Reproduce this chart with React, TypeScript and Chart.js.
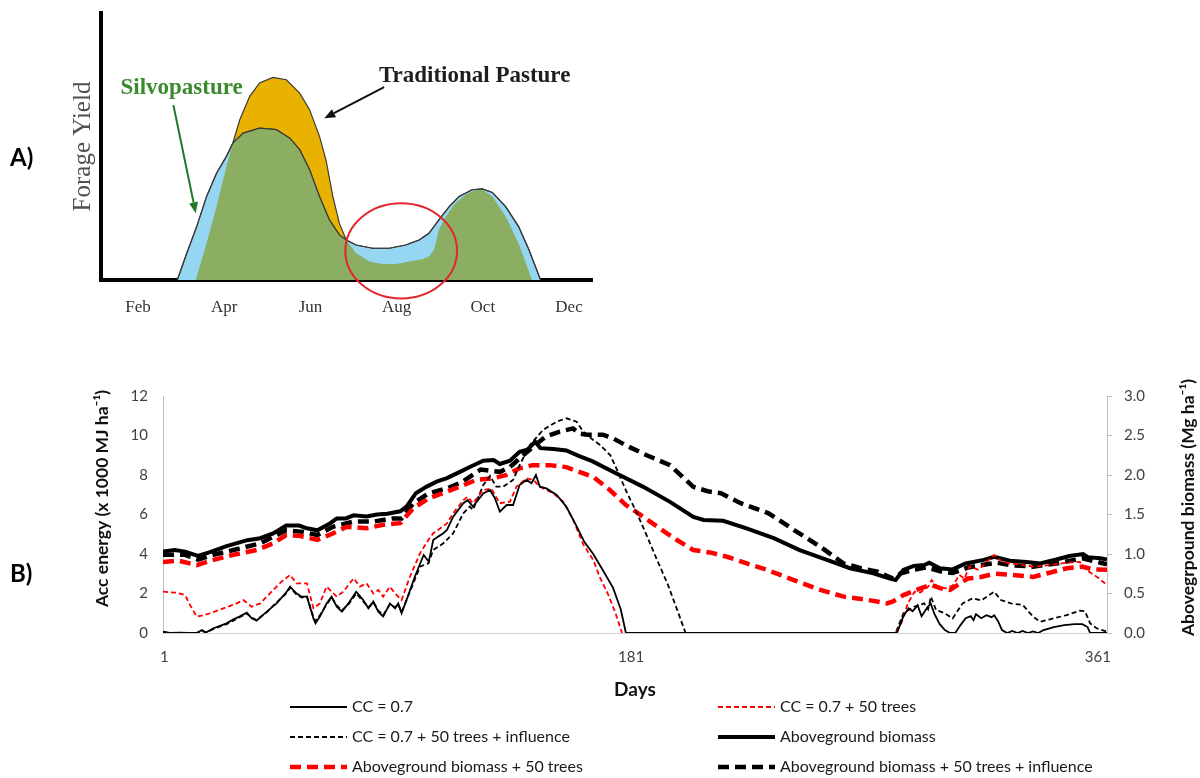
import React, { useEffect, useRef } from 'react';
import { Chart, registerables } from 'chart.js';

Chart.register(...registerables);

type Pt = [number, number];

// ---------------- Panel A (schematic forage yield) ----------------
const monthTicks = [2, 4, 6, 8, 10, 12];
const monthLabels = ['Feb', 'Apr', 'Jun', 'Aug', 'Oct', 'Dec'];

// [month, relative forage yield]
const traditionalPasture: Pt[] = [
  [3.34, 0], [3.59, 13.8], [3.82, 27.5], [4.05, 42.5], [4.2, 51.3], [4.36, 60], [4.59, 68.8],
  [4.82, 73.8], [5.13, 75.9], [5.44, 75], [5.75, 70], [5.98, 63.8], [6.21, 53.8], [6.36, 45],
  [6.52, 31.3], [6.67, 21.3], [6.83, 15], [7.06, 10], [7.37, 6.9], [7.67, 6], [7.98, 6],
  [8.29, 6.9], [8.6, 7.8], [8.75, 8.8], [8.87, 11.3], [8.98, 18.8], [9.14, 23.8], [9.37, 28.8],
  [9.6, 31.9], [9.83, 33.8], [9.99, 33.8], [10.22, 31.3], [10.53, 23.8], [10.83, 13.8], [11.14, 0],
];
const silvopasture: Pt[] = [
  [2.91, 0], [3.13, 10], [3.36, 20], [3.59, 31.3], [3.82, 40], [4.05, 46.3], [4.2, 51.3],
  [4.44, 55], [4.82, 56.9], [5.21, 56.3], [5.52, 53.1], [5.75, 48.8], [5.98, 41.3], [6.21, 31.3],
  [6.44, 22.5], [6.67, 16.9], [6.83, 15], [7.06, 13.1], [7.44, 11.9], [7.83, 11.9], [8.21, 13.1],
  [8.52, 15], [8.75, 17.5], [8.98, 22.5], [9.22, 27.5], [9.45, 31.3], [9.75, 33.8], [9.99, 34.1],
  [10.22, 32.8], [10.53, 27.5], [10.83, 20], [11.07, 11.3], [11.34, 0],
];

// ---------------- Panel B (daily simulation) ----------------
const dayTicks = [1, 181, 361];

// Acc energy (x 1000 MJ ha-1)
const ccSeries: Pt[] = [
  [0.5, 0.07], [3, 0], [7, 0.02], [10, 0], [13.5, 0], [15.5, 0.15], [17, 0.02], [20, 0.24], [25, 0.49],
  [27.6, 0.69], [30, 0.83], [32.8, 1.03], [34.7, 0.74], [36.6, 0.62], [40.5, 1.08], [44.3, 1.5],
  [48.2, 2.09], [49.5, 2.35], [52, 2.0], [54, 1.84], [56, 1.84], [58.5, 0.74], [59.3, 0.49], [61, 0.83],
  [63.6, 1.5], [65.5, 1.84], [67.5, 1.33], [69.5, 1.08], [72, 1.5], [75, 2.09], [77.7, 1.67],
  [79.7, 1.25], [81.6, 1.59], [83.5, 1.08], [85.4, 0.83], [88, 1.5], [90, 1.25], [91.2, 1.5],
  [92.5, 1.0], [94.4, 1.67], [97.6, 2.85], [101, 3.95], [103, 3.61], [104.7, 4.71], [106.6, 4.88],
  [108.6, 5.05], [110, 5.22], [112.4, 5.89], [116.3, 6.57], [118, 6.73], [120, 6.4], [124, 7.07],
  [126.6, 7.24], [128.5, 6.82], [130.4, 6.14], [133, 6.48], [135.5, 6.48], [138, 7.49], [140.7, 7.75],
  [142.6, 7.58], [144.3, 8.0], [145.8, 7.41], [148.3, 7.32], [152.3, 6.99], [156, 6.4], [160, 5.4],
  [163, 4.6], [166.4, 4.0], [170, 3.2], [174, 2.3], [177, 1.2], [179, 0], [283.5, 0], [286, 0.85],
  [288, 1.25], [289.5, 1.1], [291.5, 1.4], [293, 0.85], [295, 1.25], [296.5, 1.5], [298, 0.95],
  [300, 0.45], [302, 0.15], [304, 0], [306, 0], [308, 0.4], [310, 0.75], [312, 0.85], [313, 0.65],
  [314, 0.95], [316, 0.75], [318, 0.9], [320, 0.8], [321, 0.9], [322.5, 0.6], [324, 0.15], [326, 0],
  [328, 0.1], [330, 0], [332, 0.1], [334, 0], [336, 0.08], [338, 0], [340, 0.15], [344, 0.3],
  [348, 0.4], [352, 0.45], [355, 0.45], [357, 0.3], [358, 0], [364.5, 0],
];
const cc50Series: Pt[] = [
  [0.5, 2.09], [5.8, 2.04], [9, 1.92], [11, 1.4], [13.5, 0.83], [16, 0.9], [18.6, 1.0], [23.8, 1.25],
  [28.9, 1.5], [31.5, 1.67], [34.7, 1.33], [38, 1.5], [43, 2.18], [46.2, 2.6], [49.5, 2.94], [52, 2.51],
  [56, 2.51], [58.5, 1.25], [61, 1.5], [63.6, 2.35], [65.5, 2.09], [67.5, 1.84], [70, 2.09], [74, 2.77],
  [76.4, 2.35], [79, 2.51], [81.6, 2.0], [83.5, 2.18], [85.4, 1.84], [88, 2.35], [90, 2.0], [92.5, 1.67],
  [95.7, 2.85], [99.6, 4.03], [102.8, 4.71], [104.7, 5.05], [106.6, 5.22], [110, 5.55], [112.4, 6.06],
  [116.3, 6.73], [118, 6.9], [120, 6.57], [124, 7.24], [127, 7.32], [130.4, 6.57], [134.3, 6.65],
  [136.8, 7.41], [140.7, 7.83], [143.3, 7.75], [145.8, 7.41], [151, 7.07], [154.8, 6.65], [158.7, 5.72],
  [162.5, 4.5], [166.4, 3.7], [169, 2.8], [172, 2.0], [175, 1.0], [177.5, 0], [283, 0], [285.2, 0.49],
  [287.7, 1.5], [290.3, 2.09], [292.5, 2.05], [295.6, 2.35], [296.9, 2.68], [299, 2.35], [302, 2.26],
  [305, 2.4], [307.6, 2.94], [309.5, 2.75], [311.4, 3.36], [315, 3.2], [318, 3.6], [321, 3.95],
  [324, 3.6], [327, 3.53], [336, 3.36], [343, 3.45], [349, 3.56], [354, 3.6], [356.6, 3.19],
  [360.5, 2.85], [364.5, 2.43],
];
const ccInflSeries: Pt[] = [
  [0.5, 0.05], [3, 0], [10, 0], [13.5, 0], [15.5, 0.12], [17, 0.02], [20, 0.2], [25, 0.45], [27.6, 0.62],
  [30, 0.8], [32.8, 0.98], [34.7, 0.78], [36.6, 0.66], [40.5, 1.05], [44.3, 1.55], [48.2, 2.02],
  [49.5, 2.3], [52, 1.95], [54, 1.8], [56, 1.85], [58.5, 0.8], [59.3, 0.6], [61, 0.9], [63.6, 1.45],
  [65.5, 1.8], [67.5, 1.4], [69.5, 1.15], [72, 1.45], [75, 2.0], [77.7, 1.6], [79.7, 1.3], [81.6, 1.55],
  [83.5, 1.15], [85.4, 0.9], [88, 1.45], [90, 1.3], [91.2, 1.45], [92.5, 1.05], [95.7, 2.09],
  [99.6, 3.36], [102.8, 3.53], [104.7, 4.2], [108.6, 4.54], [112.4, 5.05], [116.3, 6.06], [118.8, 6.4],
  [120, 6.23], [124, 7.49], [126.6, 7.95], [129, 7.41], [131.7, 7.41], [135.5, 7.75], [138, 8.5],
  [142, 9.52], [147, 10.28], [152.3, 10.7], [156, 10.87], [160, 10.7], [162.5, 10.2], [166.4, 9.77],
  [169, 9.52], [173, 9.0], [175.6, 8.25], [179.5, 7.07], [183.3, 6.06], [187.2, 4.88], [191, 3.7],
  [195, 2.51], [198.8, 1.16], [202, 0], [283, 0], [286, 1.0], [290, 1.33], [294, 1.5], [295.5, 1.2],
  [296.6, 1.84], [298.6, 1.16], [302, 1.0], [305, 0.74], [308.8, 1.5], [312.7, 1.76], [316, 1.65],
  [321, 2.09], [323.6, 1.67], [327.4, 1.5], [332, 1.42], [336, 0.83], [338.7, 0.57], [342.5, 0.69],
  [349, 0.91], [354, 1.13], [356, 1.1], [358, 0.49], [360.5, 0.24], [364.5, 0.07],
];

// Aboveground biomass (Mg ha-1)
const abSeries: Pt[] = [
  [0.5, 1.03], [5, 1.05], [9, 1.03], [14, 0.975], [18.6, 1.025], [25, 1.1], [33, 1.175], [38, 1.2],
  [43, 1.26], [48, 1.36], [53, 1.36], [56, 1.325], [60, 1.3], [65, 1.39], [67.5, 1.45], [71, 1.45],
  [74, 1.49], [79, 1.475], [83, 1.5], [87, 1.51], [92, 1.54], [94.4, 1.6], [98, 1.77], [102, 1.85],
  [106, 1.915], [110, 1.96], [115, 2.04], [119, 2.105], [124, 2.18], [128, 2.19], [130.4, 2.14],
  [134.3, 2.18], [138, 2.295], [141, 2.32], [144, 2.42], [146, 2.34], [151, 2.33], [156, 2.31],
  [161, 2.24], [166, 2.175], [174, 2.04], [185.7, 1.85], [196, 1.66], [205, 1.47], [209, 1.43],
  [216.5, 1.42], [225.5, 1.325], [236, 1.2], [246, 1.05], [256.5, 0.925], [265.4, 0.82], [274.4, 0.755],
  [280.8, 0.69], [283, 0.67], [286, 0.8], [290, 0.85], [294, 0.86], [296, 0.89], [300, 0.82],
  [305, 0.805], [310, 0.88], [317, 0.925], [321, 0.965], [327, 0.915], [333.5, 0.9], [338.7, 0.88],
  [345, 0.93], [350, 0.975], [355.3, 1.0], [357, 0.96], [362, 0.945], [364.5, 0.93],
];
const ab50Series: Pt[] = [
  [0.5, 0.9], [6.5, 0.915], [13.5, 0.86], [20, 0.925], [27.6, 0.99], [36.6, 1.05], [43, 1.135],
  [48, 1.24], [53, 1.23], [60, 1.18], [66, 1.26], [71.3, 1.345], [79, 1.325], [85.4, 1.37], [91.9, 1.39],
  [97, 1.58], [103, 1.705], [110, 1.79], [116.3, 1.87], [121.4, 1.94], [128, 1.96], [133, 2.0],
  [138, 2.085], [143, 2.125], [149.7, 2.125], [156, 2.1], [161, 2.04], [166.4, 1.975], [172.8, 1.81],
  [179, 1.62], [185.7, 1.47], [192, 1.325], [198.5, 1.18], [205, 1.05], [211.4, 1.02], [218, 0.965],
  [225.6, 0.88], [233.3, 0.8], [243.7, 0.67], [254, 0.545], [263, 0.46], [272, 0.42], [279.7, 0.375],
  [282, 0.4], [286, 0.48], [291, 0.545], [296.6, 0.61], [300.4, 0.565], [304, 0.545], [310.8, 0.69],
  [315.5, 0.705], [321, 0.75], [328, 0.735], [336, 0.71], [342, 0.76], [349, 0.82], [355, 0.84],
  [359, 0.805], [364.5, 0.8],
];
const abInflSeries: Pt[] = [
  [0.5, 0.99], [9, 0.99], [14, 0.93], [20, 0.99], [27.6, 1.05], [38, 1.135], [48, 1.3], [54.6, 1.28],
  [60, 1.24], [66, 1.345], [74, 1.41], [81.6, 1.41], [89, 1.45], [92.5, 1.45], [97, 1.64], [103, 1.77],
  [110, 1.83], [116, 1.915], [123, 2.07], [130.4, 2.04], [134.3, 2.1], [138, 2.21], [143.3, 2.36],
  [148, 2.485], [153.5, 2.55], [158.6, 2.59], [161, 2.525], [164, 2.51], [170, 2.51], [174, 2.465],
  [179, 2.375], [187, 2.25], [196, 2.125], [205, 1.85], [211, 1.79], [215.6, 1.77], [223.5, 1.64],
  [234, 1.515], [244, 1.3], [254, 1.09], [263, 0.88], [269.6, 0.82], [276, 0.775], [282, 0.69],
  [285, 0.755], [290, 0.8], [295, 0.83], [301, 0.775], [305, 0.76], [311, 0.83], [318, 0.87],
  [322, 0.89], [327, 0.86], [336, 0.84], [345, 0.88], [355, 0.945], [362, 0.89], [364.5, 0.87],
];

const leftTitle = 'Acc energy (x 1000 MJ ha\u207B\u00B9)';
const rightTitle = 'Abovegrpound biomass (Mg ha\u207B\u00B9)';

// ---------------- helpers ----------------
const toXY = (s: Pt[]) => s.map(([x, y]) => ({ x, y }));

function interp(s: Pt[], x: number): number {
  if (x < s[0][0] || x > s[s.length - 1][0]) return 0;
  for (let i = 1; i < s.length; i++) {
    if (x <= s[i][0]) {
      const [x0, y0] = s[i - 1];
      const [x1, y1] = s[i];
      return x1 === x0 ? y1 : y0 + ((y1 - y0) * (x - x0)) / (x1 - x0);
    }
  }
  return 0;
}

function overlapOf(a: Pt[], b: Pt[]): Pt[] {
  const start = Math.max(a[0][0], b[0][0]);
  const end = Math.min(a[a.length - 1][0], b[b.length - 1][0]);
  const xs = Array.from(new Set([...a, ...b].map((p) => p[0]).filter((x) => x >= start && x <= end))).sort(
    (p, q) => p - q
  );
  const out: Pt[] = [];
  for (let i = 0; i < xs.length; i++) {
    const x = xs[i];
    if (i > 0) {
      const xp = xs[i - 1];
      const dp = interp(a, xp) - interp(b, xp);
      const dc = interp(a, x) - interp(b, x);
      if (dp * dc < 0) {
        const xc = xp + ((x - xp) * dp) / (dp - dc);
        out.push([xc, interp(a, xc)]);
      }
    }
    out.push([x, Math.min(interp(a, x), interp(b, x))]);
  }
  return out;
}

function arrow(ctx: CanvasRenderingContext2D, x1: number, y1: number, x2: number, y2: number, color: string) {
  const ang = Math.atan2(y2 - y1, x2 - x1);
  const len = 11;
  const hw = 4.5;
  const bx = x2 - len * Math.cos(ang);
  const by = y2 - len * Math.sin(ang);
  ctx.strokeStyle = color;
  ctx.fillStyle = color;
  ctx.lineWidth = 2;
  ctx.beginPath();
  ctx.moveTo(x1, y1);
  ctx.lineTo(bx, by);
  ctx.stroke();
  ctx.beginPath();
  ctx.moveTo(x2, y2);
  ctx.lineTo(bx + hw * Math.sin(ang), by - hw * Math.cos(ang));
  ctx.lineTo(bx - hw * Math.sin(ang), by + hw * Math.cos(ang));
  ctx.closePath();
  ctx.fill();
}

const panelAAnnotations = {
  id: 'panelAAnnotations',
  afterDraw(chart: any) {
    const { ctx, scales } = chart;
    const px = (m: number) => scales.x.getPixelForValue(m);
    const py = (v: number) => scales.y.getPixelForValue(v);
    ctx.save();
    ctx.textAlign = 'center';
    ctx.textBaseline = 'middle';
    ctx.font = 'bold 23px "Liberation Serif"';
    ctx.fillStyle = '#3a8a2e';
    ctx.fillText('Silvopasture', px(3.01), py(71.8));
    ctx.fillStyle = '#1e1e1e';
    ctx.fillText('Traditional Pasture', px(9.81), py(76.5));
    arrow(ctx, px(2.82), py(65.5), px(3.34), py(25), '#22782a');
    arrow(ctx, px(7.71), py(72.2), px(6.32), py(60.6), '#111111');
    const cx = px(8.105);
    const cy = py(10.9);
    const rx = px(8.105 + 1.296) - cx;
    const ry = cy - py(10.9 + 17.8);
    ctx.beginPath();
    ctx.ellipse(cx, cy, rx, ry, 0, 0, Math.PI * 2);
    ctx.strokeStyle = '#e3262b';
    ctx.lineWidth = 2;
    ctx.stroke();
    ctx.restore();
  },
};

const panelBExtras = {
  id: 'panelBExtras',
  afterDraw(chart: any) {
    const { ctx, chartArea: ca } = chart;
    const midY = (ca.top + ca.bottom) / 2;
    ctx.save();
    ctx.fillStyle = '#111';
    ctx.textAlign = 'center';
    ctx.textBaseline = 'middle';
    ctx.font = 'bold 17.5px Lato';
    ctx.save();
    ctx.translate(ca.left - 61, midY - 16);
    ctx.rotate(-Math.PI / 2);
    ctx.fillText(leftTitle, 0, 0);
    ctx.restore();
    ctx.save();
    ctx.translate(ca.right + 81, midY - 7);
    ctx.rotate(-Math.PI / 2);
    ctx.fillText(rightTitle, 0, 0);
    ctx.restore();

    const colX = [290, 718];
    chart.data.datasets.forEach((ds: any, i: number) => {
      const x0 = colX[i % 2];
      const y0 = ca.bottom + 74 + Math.floor(i / 2) * 30;
      ctx.beginPath();
      ctx.setLineDash(ds.borderDash || []);
      ctx.lineWidth = ds.borderWidth;
      ctx.strokeStyle = ds.borderColor;
      ctx.moveTo(x0, y0);
      ctx.lineTo(x0 + 57, y0);
      ctx.stroke();
      ctx.setLineDash([]);
      ctx.font = '16px Lato';
      ctx.fillStyle = '#1a1a1a';
      ctx.textAlign = 'left';
      ctx.fillText(ds.label, x0 + 62, y0);
    });
    ctx.restore();
  },
};

export default function App() {
  const refA = useRef<HTMLCanvasElement>(null);
  const refB = useRef<HTMLCanvasElement>(null);

  useEffect(() => {
    const outline = '#3a3a3a';
    const overlap = overlapOf(traditionalPasture, silvopasture);
    const chartA = new Chart(refA.current as HTMLCanvasElement, {
      type: 'line',
      data: {
        datasets: [
          {
            label: 'Silvopasture outline',
            data: toXY(silvopasture),
            borderColor: outline,
            borderWidth: 1.2,
            pointRadius: 0,
            fill: false,
            order: 1,
          },
          {
            label: 'Overlap',
            data: toXY(overlap),
            borderColor: 'rgba(0,0,0,0)',
            borderWidth: 1,
            backgroundColor: '#8cae62',
            pointRadius: 0,
            fill: 'origin',
            order: 2,
          },
          {
            label: 'Silvopasture',
            data: toXY(silvopasture),
            borderColor: outline,
            borderWidth: 1.2,
            backgroundColor: '#95d6f2',
            pointRadius: 0,
            fill: 'origin',
            order: 3,
          },
          {
            label: 'Traditional Pasture',
            data: toXY(traditionalPasture),
            borderColor: outline,
            borderWidth: 1.2,
            backgroundColor: '#e9b200',
            pointRadius: 0,
            fill: 'origin',
            order: 4,
          },
        ],
      },
      options: {
        responsive: false,
        animation: false,
        devicePixelRatio: 1,
        layout: { padding: { top: 13, right: 6, bottom: 0, left: 0 } },
        plugins: { legend: { display: false }, tooltip: { enabled: false } },
        elements: { line: { tension: 0 } },
        scales: {
          x: {
            type: 'linear',
            min: 1.14,
            max: 12.55,
            z: 1,
            afterBuildTicks: (s: any) => {
              s.ticks = monthTicks.map((v) => ({ value: v }));
            },
            afterFit: (s: any) => {
              s.height = 50;
            },
            ticks: {
              autoSkip: false,
              maxRotation: 0,
              padding: 17,
              color: '#333',
              font: { family: '"Liberation Serif"', size: 17 },
              callback: (_v: any, i: number) => monthLabels[i],
            },
            grid: { display: false, drawTicks: false },
            border: { display: true, color: '#000', width: 4 },
          },
          y: {
            min: 0,
            max: 100,
            z: 1,
            afterFit: (s: any) => {
              s.width = 101;
            },
            ticks: { display: false },
            grid: { display: false, drawTicks: false },
            border: { display: true, color: '#000', width: 4 },
            title: {
              display: true,
              text: 'Forage Yield',
              color: '#505050',
              font: { family: '"Liberation Serif"', size: 25 },
              padding: { top: 68, bottom: 0 },
            },
          },
        },
      } as any,
      plugins: [panelAAnnotations],
    });

    const tickFont = { family: 'Lato', size: 15 };
    const tickColor = '#404040';
    const chartB = new Chart(refB.current as HTMLCanvasElement, {
      type: 'line',
      data: {
        datasets: [
          {
            label: 'CC = 0.7',
            data: toXY(ccSeries),
            yAxisID: 'y',
            borderColor: '#000000',
            borderWidth: 1.8,
            pointRadius: 0,
            fill: false,
          },
          {
            label: 'CC = 0.7 + 50 trees',
            data: toXY(cc50Series),
            yAxisID: 'y',
            borderColor: '#ff0000',
            borderWidth: 1.8,
            borderDash: [5, 3],
            pointRadius: 0,
            fill: false,
          },
          {
            label: 'CC = 0.7 + 50 trees + influence',
            data: toXY(ccInflSeries),
            yAxisID: 'y',
            borderColor: '#000000',
            borderWidth: 1.8,
            borderDash: [5, 3],
            pointRadius: 0,
            fill: false,
          },
          {
            label: 'Aboveground biomass',
            data: toXY(abSeries),
            yAxisID: 'y1',
            borderColor: '#000000',
            borderWidth: 4,
            pointRadius: 0,
            fill: false,
          },
          {
            label: 'Aboveground biomass + 50 trees',
            data: toXY(ab50Series),
            yAxisID: 'y1',
            borderColor: '#ff0000',
            borderWidth: 4.5,
            borderDash: [11, 6],
            pointRadius: 0,
            fill: false,
          },
          {
            label: 'Aboveground biomass + 50 trees + influence',
            data: toXY(abInflSeries),
            yAxisID: 'y1',
            borderColor: '#000000',
            borderWidth: 4.5,
            borderDash: [11, 6],
            pointRadius: 0,
            fill: false,
          },
        ],
      },
      options: {
        responsive: false,
        animation: false,
        devicePixelRatio: 1,
        layout: { padding: { top: 36, right: 0, bottom: 75, left: 0 } },
        plugins: { legend: { display: false }, tooltip: { enabled: false } },
        elements: { line: { tension: 0 } },
        scales: {
          x: {
            type: 'linear',
            min: 0.5,
            max: 364.5,
            afterBuildTicks: (s: any) => {
              s.ticks = dayTicks.map((v) => ({ value: v }));
            },
            afterFit: (s: any) => {
              s.height = 70;
            },
            ticks: {
              autoSkip: false,
              maxRotation: 0,
              padding: 15,
              color: tickColor,
              font: tickFont,
              callback: (v: any) => String(v),
            },
            grid: { display: false, drawTicks: false },
            border: { display: true, color: '#d0d0d0', width: 1 },
            title: {
              display: true,
              text: 'Days',
              color: '#111',
              font: { family: 'Lato', size: 19, weight: 'bold' },
              padding: { top: 0, bottom: 2 },
            },
          },
          y: {
            position: 'left',
            min: 0,
            max: 12,
            afterFit: (s: any) => {
              s.width = 163;
            },
            ticks: { stepSize: 2, padding: 15, color: tickColor, font: tickFont },
            grid: { display: false, drawTicks: false },
            border: { display: true, color: '#bfbfbf', width: 1 },
          },
          y1: {
            position: 'right',
            min: 0,
            max: 3,
            afterFit: (s: any) => {
              s.width = 93;
            },
            ticks: {
              stepSize: 0.5,
              padding: 12,
              color: tickColor,
              font: tickFont,
              callback: (v: any) => Number(v).toFixed(1),
            },
            grid: { display: true, drawOnChartArea: false, drawTicks: true, tickLength: 5, color: '#bfbfbf' },
            border: { display: true, color: '#bfbfbf', width: 1 },
          },
        },
      } as any,
      plugins: [panelBExtras],
    });

    return () => {
      chartA.destroy();
      chartB.destroy();
    };
  }, []);

  const panelLabel: React.CSSProperties = {
    position: 'absolute',
    fontFamily: 'Lato, sans-serif',
    fontWeight: 700,
    fontSize: 24,
    lineHeight: '28px',
    color: '#000',
  };

  return (
    <div
      style={{
        position: 'fixed',
        left: 0,
        top: 0,
        width: 1200,
        height: 778,
        background: '#ffffff',
        overflow: 'hidden',
      }}
    >
      <canvas ref={refA} width={600} height={330} style={{ position: 'absolute', left: 0, top: 0 }} />
      <canvas ref={refB} width={1200} height={418} style={{ position: 'absolute', left: 0, top: 360 }} />
      <div style={{ ...panelLabel, left: 10, top: 143 }}>A)</div>
      <div style={{ ...panelLabel, left: 10, top: 559 }}>B)</div>
    </div>
  );
}
